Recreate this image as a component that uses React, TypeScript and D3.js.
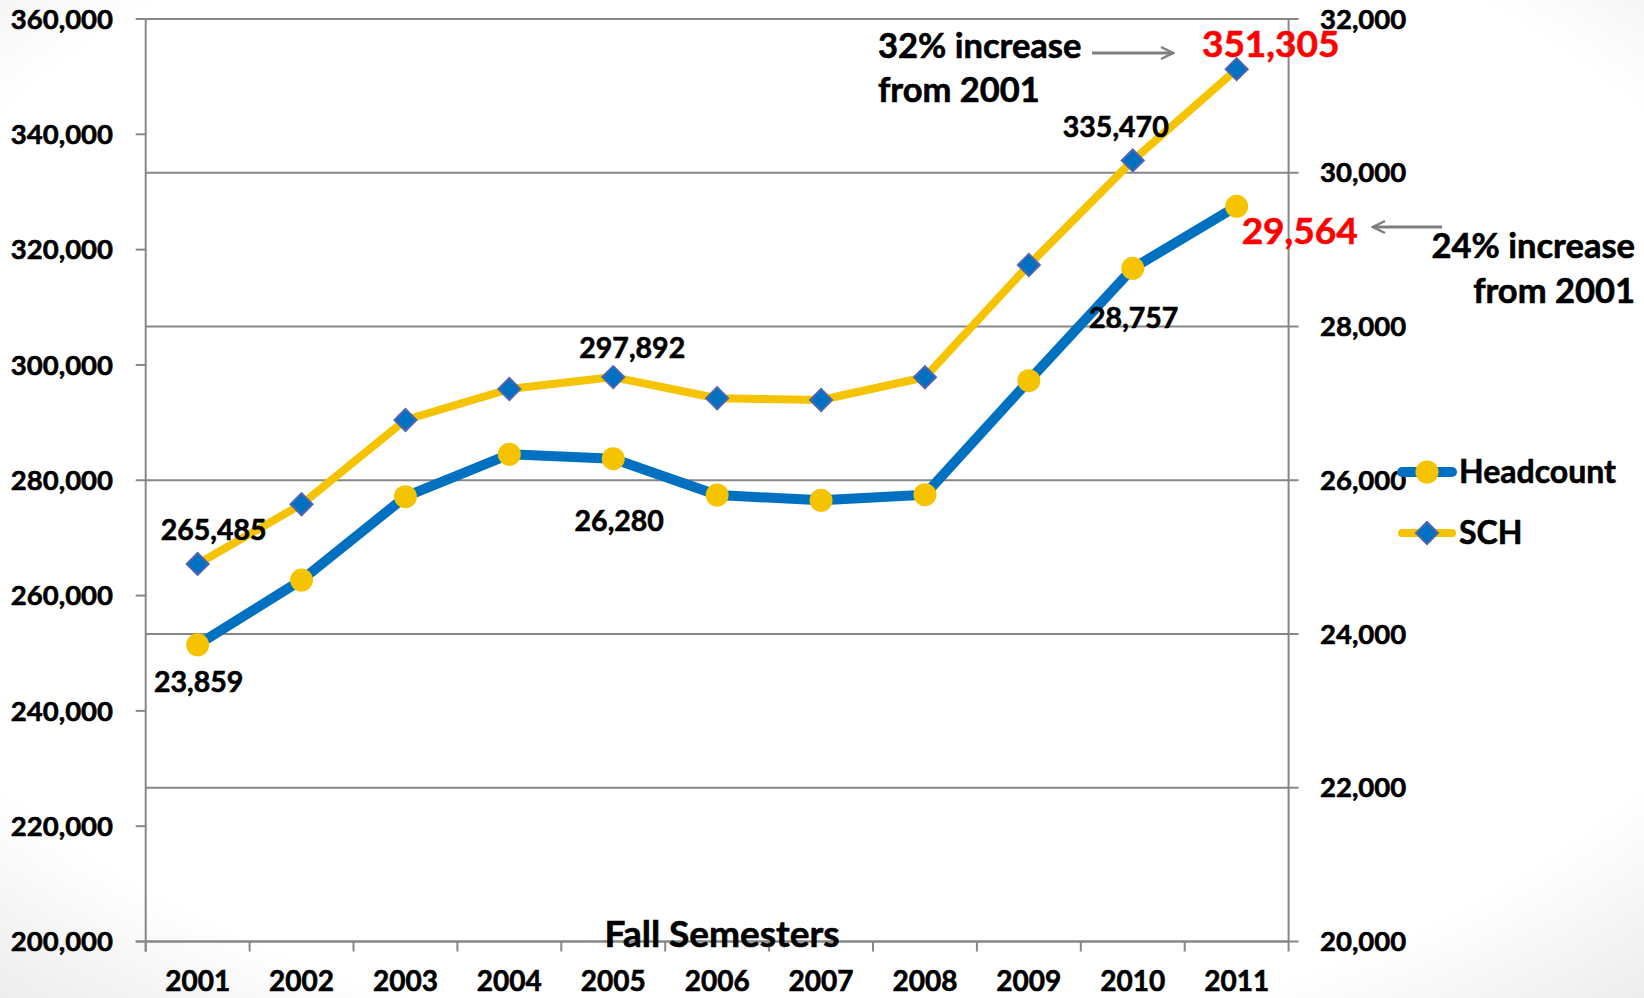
import * as d3 from 'd3'

const years = ['2001', '2002', '2003', '2004', '2005', '2006', '2007', '2008', '2009', '2010', '2011']
const headcount = [23859, 24702, 25786, 26337, 26280, 25808, 25739, 25812, 27295, 28757, 29564]
const sch = [265485, 275834, 290454, 295831, 297892, 294218, 293923, 297859, 317336, 335470, 351305]
const leftTicks = d3.range(200000, 360001, 20000)
const rightTicks = d3.range(20000, 32001, 2000)

// labels shown next to points: [series, index, dx, dy, red]
const pointLabels: [string, number, number, number, boolean][] = [
  ['sch', 0, 16, -24, false],
  ['hc', 0, 1, 47, false],
  ['sch', 4, 19, -19, false],
  ['hc', 4, 6, 72, false],
  ['sch', 9, -17, -23, false],
  ['hc', 9, 1, 60, false],
  ['sch', 10, 34, -12, true],
  ['hc', 10, 63, 38, true],
]

const W = 1644
const H = 998
const FONT = 'Lato, "Open Sans", sans-serif'
const BLUE = '#0070C0'
const GOLD = '#F5C300'
const GRID = '#878787'
const ARROW = '#7f7f7f'

export default function App() {
  const left = 145.7
  const right = 1288.6
  const top = 19
  const bottom = 941.5

  const x = d3.scaleBand().domain(years).range([left, right])
  const cx = (i: number) => (x(years[i]) as number) + x.bandwidth() / 2
  const yL = d3.scaleLinear().domain([200000, 360000]).range([bottom, top])
  const yR = d3.scaleLinear().domain([20000, 32000]).range([bottom, top])
  const fmt = d3.format(',')

  const hcLine = d3.line<number>().x((_, i) => cx(i)).y((d) => yR(d))
  const schLine = d3.line<number>().x((_, i) => cx(i)).y((d) => yL(d))

  const diamond = (px: number, py: number, r: number) =>
    `M${px},${py - r}L${px + r},${py}L${px},${py + r}L${px - r},${py}Z`

  // slightly heavier text, closer to the original bold face
  const heavy = (fill: string) => ({ fill, stroke: fill, strokeWidth: 0.6 })

  return (
    <div style={{ position: 'absolute', left: 0, top: 0 }}>
      <svg width={W} height={H} style={{ display: 'block', fontFamily: FONT, fontWeight: 700 }}>
        <defs>
          <radialGradient id="bg" cx="0.5" cy="0.45" r="0.75">
            <stop offset="0.8" stopColor="#ffffff" />
            <stop offset="1" stopColor="#ececec" />
          </radialGradient>
          <marker id="arr" viewBox="0 0 16 16" refX="14" refY="8" markerWidth="16" markerHeight="16" markerUnits="userSpaceOnUse" orient="auto">
            <path d="M2,2L14,8L2,14" fill="none" stroke={ARROW} strokeWidth="2.5" />
          </marker>
        </defs>
        <rect width={W} height={H} fill="url(#bg)" />

        {/* gridlines on right axis steps */}
        {rightTicks.map((t) => (
          <line key={'g' + t} x1={left} x2={right + 10} y1={yR(t)} y2={yR(t)} stroke={GRID} strokeWidth={2} />
        ))}

        {/* left axis */}
        <line x1={left} x2={left} y1={top} y2={bottom + 10} stroke={GRID} strokeWidth={2} />
        {leftTicks.map((t) => (
          <g key={'l' + t}>
            <line x1={left - 10} x2={left} y1={yL(t)} y2={yL(t)} stroke={GRID} strokeWidth={2} />
            <text x={113} y={yL(t)} dy="0.35em" textAnchor="end" fontSize={27.5} {...heavy('#000')}>
              {fmt(t)}
            </text>
          </g>
        ))}

        {/* right axis */}
        <line x1={right} x2={right} y1={top} y2={bottom + 10} stroke={GRID} strokeWidth={2} />
        {rightTicks.map((t) => (
          <text key={'r' + t} x={1320} y={yR(t)} dy="0.35em" fontSize={27.5} {...heavy('#000')}>
            {fmt(t)}
          </text>
        ))}

        {/* x axis */}
        <line x1={left - 10} x2={right} y1={bottom} y2={bottom} stroke={GRID} strokeWidth={2} />
        {years.map((yr, i) => (
          <g key={yr}>
            <line x1={x(yr) as number} x2={x(yr) as number} y1={bottom} y2={bottom + 10} stroke={GRID} strokeWidth={2} />
            <text x={cx(i)} y={991} textAnchor="middle" fontSize={28} {...heavy('#000')}>
              {yr}
            </text>
          </g>
        ))}

        <text x={722} y={947} textAnchor="middle" fontSize={37} {...heavy('#000')}>
          Fall Semesters
        </text>

        {/* Headcount */}
        <path d={hcLine(headcount) as string} fill="none" stroke={BLUE} strokeWidth={10} strokeLinejoin="round" />
        {headcount.map((v, i) => (
          <circle key={'hc' + i} cx={cx(i)} cy={yR(v)} r={11.5} fill={GOLD} />
        ))}

        {/* SCH */}
        <path d={schLine(sch) as string} fill="none" stroke={GOLD} strokeWidth={8} strokeLinejoin="round" />
        {sch.map((v, i) => (
          <path key={'s' + i} d={diamond(cx(i), yL(v), 11)} fill={BLUE} stroke="#4F65B0" strokeWidth={2} />
        ))}

        {/* point labels */}
        {pointLabels.map(([s, i, dx, dy, red]) => {
          const v = s === 'sch' ? sch[i] : headcount[i]
          const py = s === 'sch' ? yL(v) : yR(v)
          return (
            <text
              key={s + i}
              x={cx(i) + dx}
              y={py + dy}
              textAnchor="middle"
              fontSize={red ? 37 : 28.5}
              {...heavy(red ? '#FF0000' : '#000')}
            >
              {fmt(v)}
            </text>
          )
        })}

        {/* annotations */}
        <text x={878} y={58} fontSize={34.5} {...heavy('#000')}>32% increase</text>
        <text x={878} y={102} fontSize={34.5} {...heavy('#000')}>from 2001</text>
        <line x1={1092} x2={1173} y1={53} y2={53} stroke={ARROW} strokeWidth={3} markerEnd="url(#arr)" />

        <text x={1635} y={258} textAnchor="end" fontSize={34.5} {...heavy('#000')}>24% increase</text>
        <text x={1635} y={303} textAnchor="end" fontSize={34.5} {...heavy('#000')}>from 2001</text>
        <line x1={1442} x2={1373} y1={227} y2={227} stroke={ARROW} strokeWidth={3} markerEnd="url(#arr)" />

        {/* legend */}
        <g>
          <line x1={1402} x2={1452} y1={472} y2={472} stroke={BLUE} strokeWidth={10} strokeLinecap="round" />
          <circle cx={1427} cy={472} r={11.5} fill={GOLD} />
          <text x={1459} y={472} dy="0.35em" fontSize={32} {...heavy('#000')}>Headcount</text>
          <line x1={1402} x2={1452} y1={533} y2={533} stroke={GOLD} strokeWidth={8} strokeLinecap="round" />
          <path d={diamond(1427, 533, 11)} fill={BLUE} stroke="#4F65B0" strokeWidth={2} />
          <text x={1459} y={533} dy="0.35em" fontSize={32} {...heavy('#000')}>SCH</text>
        </g>
      </svg>
    </div>
  )
}
